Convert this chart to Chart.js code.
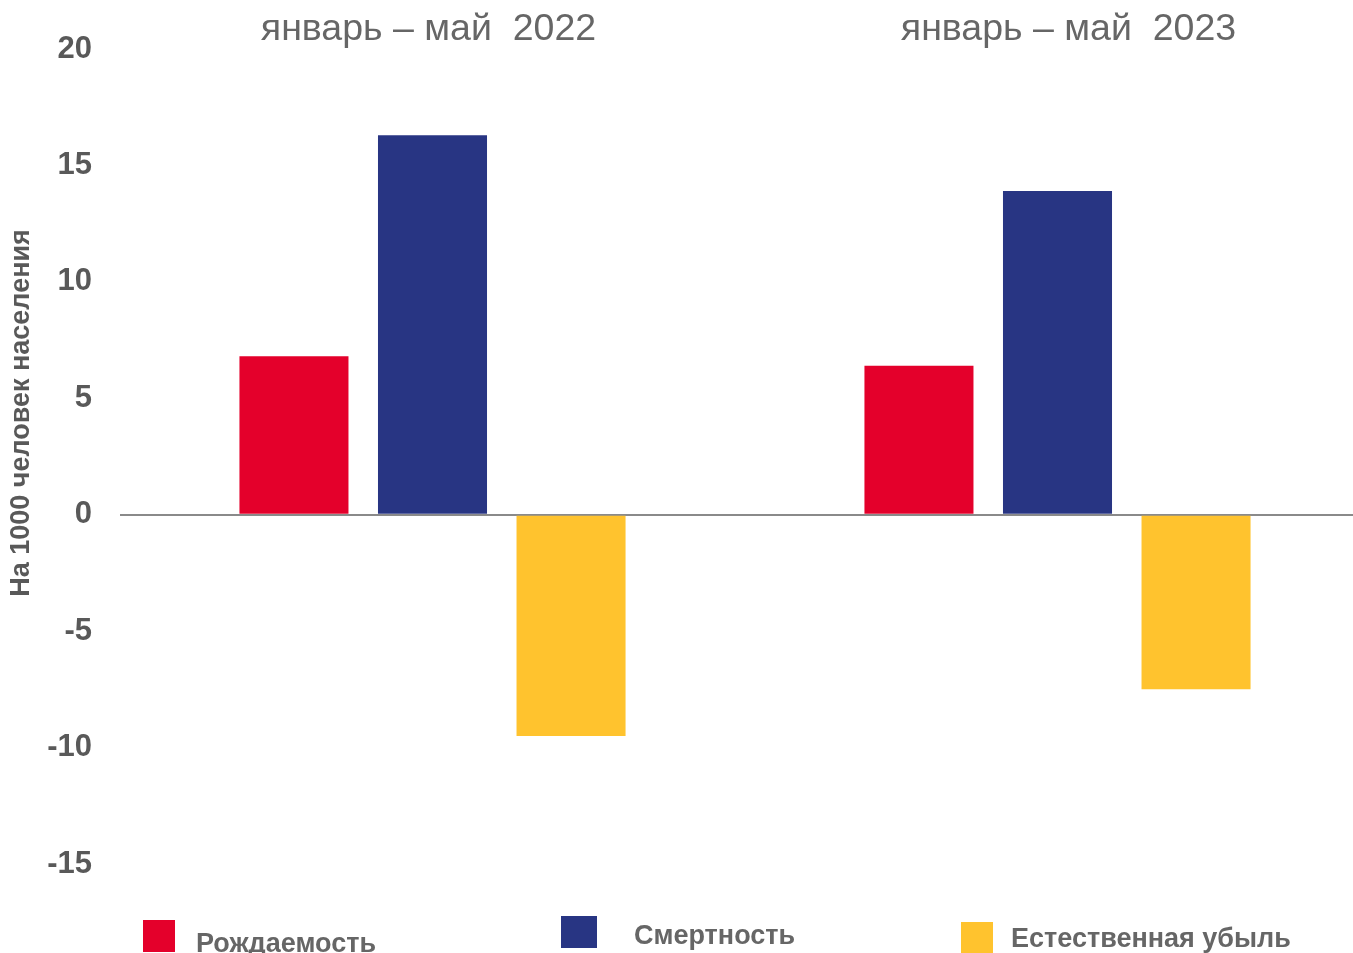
<!DOCTYPE html>
<html lang="ru">
<head>
<meta charset="utf-8">
<title>Рождаемость и смертность</title>
<script src="https://cdn.jsdelivr.net/npm/chart.js@4/dist/chart.umd.min.js"></script>
<style>
  html, body { margin: 0; padding: 0; background: #fff; overflow: hidden; }
  #wrap { position: relative; width: 1353px; height: 953px; }
  #chart { position: absolute; left: 0; top: 0; }
  .leg { position: absolute; font: bold 27px 'Liberation Sans', Arial, sans-serif; color: #666; white-space: nowrap; }
  .leg i { position: absolute; height: 32px; }
</style>
</head>
<body>
<div id="wrap">
  <canvas id="chart" width="1370" height="953"></canvas>
</div>
<script>
// periods
var periods = ['январь – май  2022', 'январь – май  2023'];
// per 1000 population
var birthRate = [6.8, 6.4];
var deathRate = [16.3, 13.9];
var naturalLoss = [-9.5, -7.5];
var seriesNames = ['Рождаемость', 'Смертность', 'Естественная убыль'];
var yTicks = [-15, -10, -5, 0, 5, 10, 15, 20];
var yTitle = 'На 1000 человек населения';

var colors = ['#E4002B', '#283583', '#FFC32E'];
var FONT = "'Liberation Sans', Arial, sans-serif";
var titleShift = [-4, 11]; // headings aren't quite centred in the original

// period headings over each group + the y axis caption
var extraText = {
  id: 'extraText',
  afterDraw: function (chart) {
    var ctx = chart.ctx, x = chart.scales.x;
    ctx.save();
    ctx.font = '37.5px ' + FONT;
    ctx.fillStyle = '#666';
    ctx.textAlign = 'center';
    ctx.textBaseline = 'alphabetic';
    periods.forEach(function (p, i) {
      ctx.fillText(p, x.getPixelForValue(i) + titleShift[i], 40);
    });
    ctx.translate(22, 413);
    ctx.rotate(-Math.PI / 2);
    ctx.font = 'bold 27px ' + FONT;
    ctx.fillStyle = '#595959';
    ctx.textBaseline = 'middle';
    ctx.fillText(yTitle, 0, 0);
    ctx.restore();
  }
};

var chart = new Chart(document.getElementById('chart'), {
  type: 'bar',
  data: {
    labels: periods,
    datasets: [
      { label: seriesNames[0], data: birthRate, backgroundColor: colors[0] },
      { label: seriesNames[1], data: deathRate, backgroundColor: colors[1] },
      { label: seriesNames[2], data: naturalLoss, backgroundColor: colors[2] }
    ]
  },
  options: {
    responsive: false,
    animation: false,
    devicePixelRatio: 1,
    layout: { padding: { top: 49, bottom: 89, right: 0 } },
    datasets: { bar: { categoryPercentage: 0.665, barPercentage: 0.787, borderWidth: 0 } },
    plugins: { legend: { display: false }, tooltip: { enabled: false } },
    scales: {
      x: { display: false },
      y: {
        min: -15,
        max: 20,
        afterFit: function (s) { s.width = 120; },
        afterBuildTicks: function (s) { s.ticks = yTicks.map(function (v) { return { value: v }; }); },
        border: { display: false },
        grid: {
          drawTicks: false,
          lineWidth: 2,
          color: function (c) { return c.tick && c.tick.value === 0 ? '#8a8a8a' : 'rgba(0,0,0,0)'; }
        },
        ticks: { padding: 28, color: '#595959', font: { family: FONT, size: 31, weight: 'bold' } }
      }
    }
  },
  plugins: [extraText]
});

// legend laid out like the original (boxes at uneven heights)
// [box left, box top, box width, text left, text top]
var legendPos = [[143, 920, 32, 196, 928], [561, 916, 36, 634, 920], [961, 922, 32, 1011, 923]];
var wrap = document.getElementById('wrap');
seriesNames.forEach(function (name, i) {
  var p = legendPos[i];
  var box = document.createElement('div');
  box.className = 'leg';
  box.innerHTML = '<i style="left:' + p[0] + 'px;top:' + p[1] + 'px;width:' + p[2] + 'px;background:' + colors[i] + '"></i>';
  box.style.left = '0px'; box.style.top = '0px';
  wrap.appendChild(box);
  var t = document.createElement('div');
  t.className = 'leg';
  t.textContent = name;
  t.style.left = p[3] + 'px'; t.style.top = p[4] + 'px';
  wrap.appendChild(t);
});
</script>
</body>
</html>
